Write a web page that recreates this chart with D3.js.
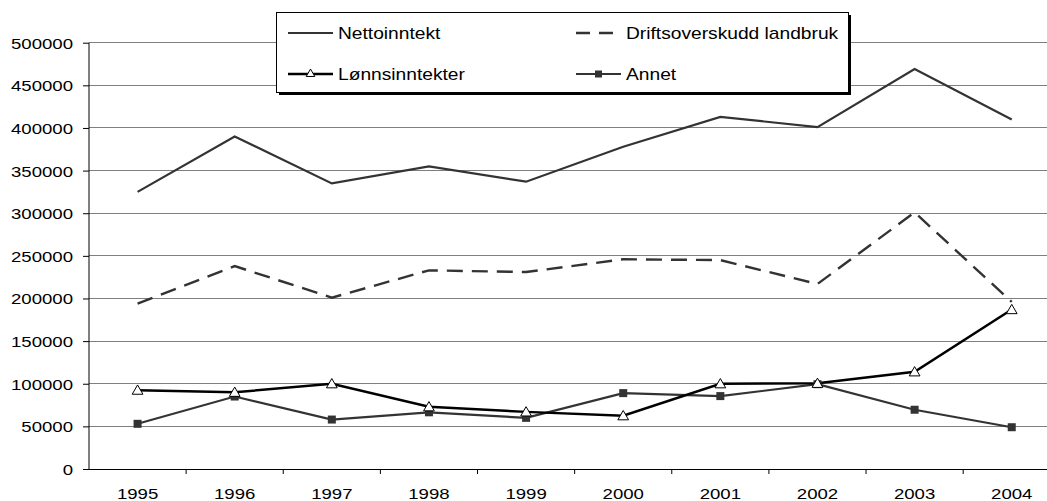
<!DOCTYPE html>
<html>
<head>
<meta charset="utf-8">
<script src="https://cdn.jsdelivr.net/npm/d3@7"></script>
<style>
  html, body { margin: 0; padding: 0; background: #fff; }
  svg { display: block; font-family: "Liberation Sans", Arial, sans-serif; }
</style>
</head>
<body>
<svg id="chart" width="1047" height="501"></svg>
<script>
// ---- data ----
const years = ["1995","1996","1997","1998","1999","2000","2001","2002","2003","2004"];
const yTicks = [0, 50000, 100000, 150000, 200000, 250000, 300000, 350000, 400000, 450000, 500000];
const nettoinntekt = [325000, 390000, 335000, 355000, 337000, 378000, 413000, 401000, 469000, 410000];
const driftsoverskudd = [194000, 238000, 201000, 233000, 231000, 246000, 245000, 217000, 301000, 196000];
const lonnsinntekter = [92500, 90000, 100000, 73000, 67000, 62500, 100000, 100500, 114000, 187000];
const annet = [53000, 85000, 58000, 66500, 60000, 89000, 85500, 99500, 69500, 49000];
const seriesNames = ["Nettoinntekt", "Driftsoverskudd landbruk", "Lønnsinntekter", "Annet"];

(function () {
// ---- layout ----
const svg = d3.select("#chart");
const W = 1047;
const pLeft = 89, pRight = 1060.3, pTop = 42.7, pBottom = 469;
const x = d3.scaleBand().domain(years).range([pLeft, pRight]).paddingInner(0).paddingOuter(0);
const y = d3.scaleLinear().domain([0, 500000]).range([pBottom, pTop]);
const cx = d => x(d) + x.bandwidth() / 2;
const SX = 1.2;

// gridlines
svg.append("g").selectAll("line").data(yTicks.filter(v => v > 0)).join("line")
  .attr("x1", pLeft).attr("x2", W)
  .attr("y1", d => y(d)).attr("y2", d => y(d))
  .attr("stroke", "#7f7f7f").attr("stroke-width", 1).attr("shape-rendering", "crispEdges");

// y axis
const yAxis = svg.append("g").attr("transform", `translate(${pLeft},0)`)
  .call(d3.axisLeft(y).tickValues(yTicks).tickSize(6).tickFormat(d3.format("d")));
yAxis.select(".domain").attr("stroke", "#000").attr("d", `M0,${pTop}V${pBottom}`);
yAxis.selectAll(".tick line").attr("stroke", "#000");
yAxis.selectAll(".tick text")
  .attr("x", null).attr("dy", null)
  .attr("transform", `translate(-16,5.5) scale(${SX},1)`)
  .attr("font-size", 15.5).attr("fill", "#000")
  .attr("font-family", "Liberation Sans, Arial, sans-serif");

// x axis
const xg = svg.append("g");
xg.append("line").attr("x1", pLeft).attr("x2", W).attr("y1", pBottom).attr("y2", pBottom)
  .attr("stroke", "#000").attr("shape-rendering", "crispEdges");
const bounds = years.map(d => x(d)).concat([x.range()[1]]);
xg.selectAll("line.tk").data(bounds.slice(1)).join("line").attr("class", "tk")
  .attr("x1", d => d).attr("x2", d => d).attr("y1", pBottom).attr("y2", pBottom + 5)
  .attr("stroke", "#000");
xg.selectAll("text").data(years).join("text")
  .attr("transform", d => `translate(${cx(d)},498.5) scale(${SX},1)`)
  .attr("text-anchor", "middle").attr("font-size", 15.5).attr("fill", "#000")
  .attr("font-weight", "normal").attr("font-family", "Liberation Sans, Arial, sans-serif")
  .text(d => d);

// lines
const line = d3.line().x((d, i) => cx(years[i])).y(d => y(d));
svg.append("path").datum(nettoinntekt).attr("d", line)
  .attr("fill", "none").attr("stroke", "#333").attr("stroke-width", 2.2);
svg.append("path").datum(driftsoverskudd).attr("d", line)
  .attr("fill", "none").attr("stroke", "#333").attr("stroke-width", 2.4)
  .attr("stroke-dasharray", "16,9");
svg.append("path").datum(annet).attr("d", line)
  .attr("fill", "none").attr("stroke", "#333").attr("stroke-width", 2.2);
svg.append("path").datum(lonnsinntekter).attr("d", line)
  .attr("fill", "none").attr("stroke", "#000").attr("stroke-width", 2.5);

// markers
const sq = 8;
svg.append("g").selectAll("rect").data(annet).join("rect")
  .attr("x", (d, i) => cx(years[i]) - sq / 2).attr("y", d => y(d) - sq / 2)
  .attr("width", sq).attr("height", sq).attr("fill", "#333");
const tri = d3.symbol().type(d3.symbolTriangle).size(50);
svg.append("g").selectAll("path").data(lonnsinntekter).join("path")
  .attr("d", tri)
  .attr("transform", (d, i) => `translate(${cx(years[i])},${y(d) + 1})`)
  .attr("fill", "#fff").attr("stroke", "#000").attr("stroke-width", 1);

// legend
const lg = svg.append("g");
const bx = 276, by = 12, bw = 572, bh = 80;
lg.append("rect").attr("x", bx + 3).attr("y", by + 3).attr("width", bw).attr("height", bh).attr("fill", "#000");
lg.append("rect").attr("x", bx).attr("y", by).attr("width", bw).attr("height", bh)
  .attr("fill", "#fff").attr("stroke", "#000").attr("stroke-width", 1).attr("shape-rendering", "crispEdges");
const items = [
  { name: seriesNames[0], x0: 288, y0: 33, stroke: "#333", w: 2, dash: null, marker: null },
  { name: seriesNames[1], x0: 576, y0: 33, stroke: "#333", w: 2.4, dash: "14,9", marker: null },
  { name: seriesNames[2], x0: 288, y0: 74, stroke: "#000", w: 2.5, dash: null, marker: "tri" },
  { name: seriesNames[3], x0: 576, y0: 74, stroke: "#333", w: 2, dash: null, marker: "sq" }
];
items.forEach(it => {
  const g = lg.append("g");
  g.append("line").attr("x1", it.x0).attr("x2", it.x0 + 45).attr("y1", it.y0).attr("y2", it.y0)
    .attr("stroke", it.stroke).attr("stroke-width", it.w).attr("stroke-dasharray", it.dash);
  if (it.marker === "tri") {
    g.append("path").attr("d", d3.symbol().type(d3.symbolTriangle).size(32))
      .attr("transform", `translate(${it.x0 + 22.5},${it.y0})`)
      .attr("fill", "#fff").attr("stroke", "#000").attr("stroke-width", 1);
  } else if (it.marker === "sq") {
    g.append("rect").attr("x", it.x0 + 22.5 - 3.5).attr("y", it.y0 - 3.5).attr("width", 7).attr("height", 7).attr("fill", "#333");
  }
  g.append("text").attr("transform", `translate(${it.x0 + 50},${it.y0 + 5.5}) scale(${SX},1)`)
    .attr("font-size", 16).attr("fill", "#000").text(it.name);
});
})();
</script>
</body>
</html>
